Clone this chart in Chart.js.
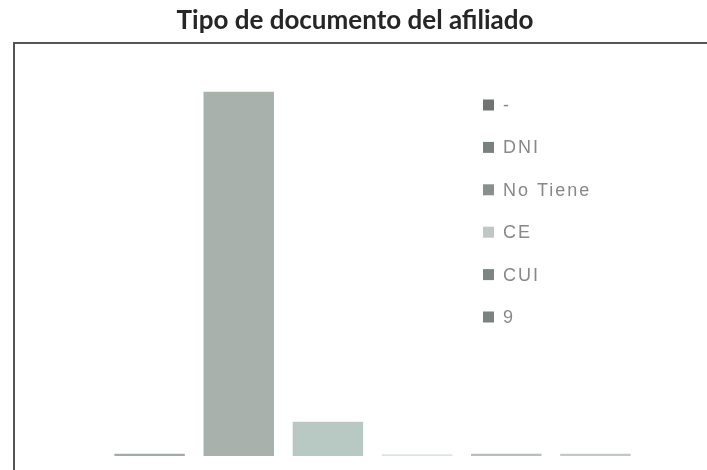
<!DOCTYPE html>
<html>
<head>
<meta charset="utf-8">
<script src="https://cdn.jsdelivr.net/npm/chart.js@4/dist/chart.umd.min.js"></script>
<style>
  html, body { margin: 0; padding: 0; background: #fff; }
  #wrap { width: 707px; height: 470px; position: relative; }
</style>
</head>
<body>
<div id="wrap"><canvas id="chart" width="707" height="470"></canvas></div>
<script>
const chartTitle = 'Tipo de documento del afiliado'
const categories = ['-', 'DNI', 'No Tiene', 'CE', 'CUI', '9']
const counts = [6, 1010, 95, 5, 6, 6]
const barColors = ['#a3aba7', '#a9b1ac', '#b8c8c2', '#dfe3e1', '#b9bdbc', '#c3c7c6']
const legendColors = ['#6f7371', '#7b7f7d', '#8a8e8c', '#c2c6c4', '#7f8381', '#7d817f']

const ctx = document.getElementById('chart').getContext('2d')

// frame and title, centred on the whole picture (not on the plot)
const framePlugin = {
  id: 'frame',
  beforeDraw(chart) {
    const c = chart.ctx
    c.save()
    c.strokeStyle = '#555'
    c.lineWidth = 2
    c.beginPath()
    c.moveTo(14, 480)
    c.lineTo(14, 43)
    c.lineTo(720, 43)
    c.stroke()
    c.font = 'bold 26px Lato'
    c.fillStyle = '#262626'
    c.textAlign = 'center'
    c.textBaseline = 'middle'
    c.fillText(chartTitle, 355, 21)
    c.restore()
  }
}

// legend drawn inside the plot, one row per category
const legendPlugin = {
  id: 'innerLegend',
  afterDraw(chart) {
    const c = chart.ctx
    c.save()
    c.font = '18px "Liberation Sans", Arial, sans-serif'
    c.letterSpacing = '2px'
    c.textBaseline = 'middle'
    for (let i = 0; i < categories.length; i++) {
      const y = 105 + i * 42.4
      c.fillStyle = legendColors[i]
      c.fillRect(483, y - 5.5, 11, 11)
      c.fillStyle = '#888'
      c.fillText(categories[i], 503, y + 1)
    }
    c.restore()
  }
}

const chart = new Chart(ctx, {
  type: 'bar',
  data: {
    labels: categories,
    datasets: [{
      label: 'Tipo de documento',
      data: counts,
      backgroundColor: barColors,
      borderWidth: 0,
      categoryPercentage: 1,
      barPercentage: 0.79
    }]
  },
  options: {
    responsive: false,
    animation: false,
    layout: { padding: { left: 105, right: 67, top: 43, bottom: 14 } },
    scales: {
      x: { display: false },
      y: { display: false, min: 0, max: 1145 }
    },
    plugins: {
      legend: { display: false },
      tooltip: { enabled: false },
      title: { display: false }
    }
  },
  plugins: [framePlugin, legendPlugin]
})
</script>
</body>
</html>
